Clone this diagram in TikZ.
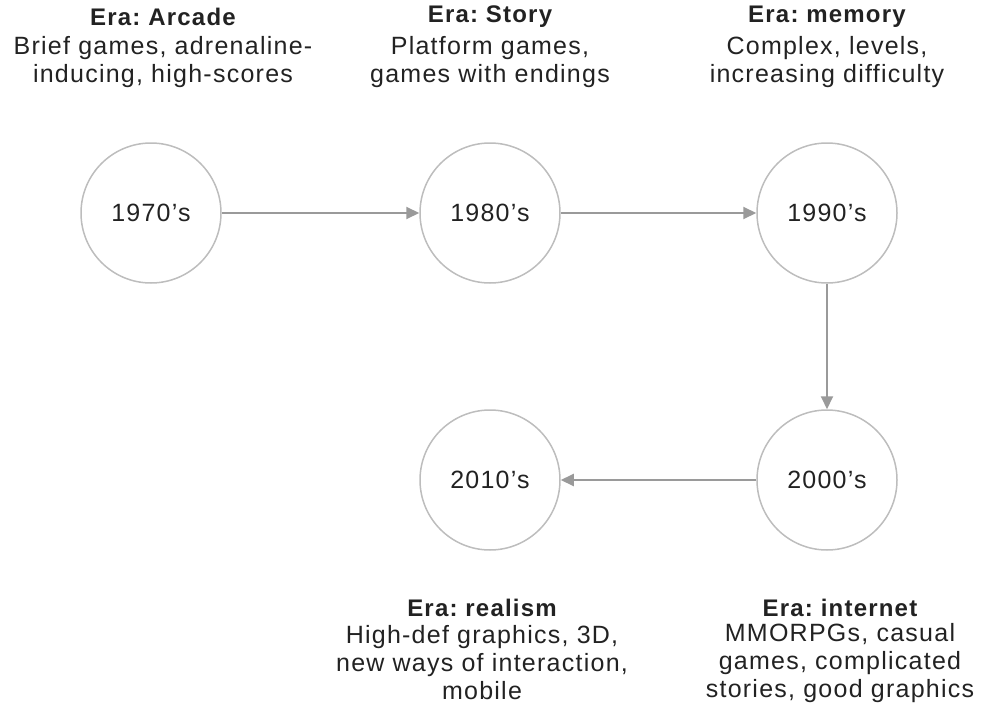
\documentclass[tikz,border=0pt]{standalone}
\usepackage{fontspec}
\setmainfont{Liberation Sans}
\usetikzlibrary{arrows.meta}
\definecolor{circ}{HTML}{BDBDBD}
\definecolor{arr}{HTML}{9A9A9A}
\definecolor{txt}{HTML}{222222}
\frenchspacing
\newfontfamily\spaced[LetterSpace=5]{Liberation Sans}
\newfontfamily\spacedb[LetterSpace=5]{Liberation Sans Bold}
\begin{document}
\begin{tikzpicture}[x=1pt,y=-1pt,
  yearnode/.style={circle,draw=circ,line width=1.5pt,minimum size=140pt,inner sep=0pt,
    font=\spaced\fontsize{25}{28}\selectfont,text=txt},
  title/.style={font=\spacedb\fontsize{24}{28}\selectfont,text=txt,inner sep=0pt},
  desc/.style={font=\spaced\fontsize{25}{28}\selectfont,text=txt,align=center,inner sep=0pt},
  conn/.style={draw=arr,line width=2pt,-{Triangle[length=13pt,width=12pt]}}]
\useasboundingbox (0,0) rectangle (994,704);
\node[yearnode] (y70) at (151,213) {1970’s};
\node[yearnode] (y80) at (490,213) {1980’s};
\node[yearnode] (y90) at (827,213) {1990’s};
\node[yearnode] (y00) at (827,480) {2000’s};
\node[yearnode] (y10) at (490,480) {2010’s};
\draw[conn] (y70) -- (y80);
\draw[conn] (y80) -- (y90);
\draw[conn] (y90) -- (y00);
\draw[conn] (y00) -- (y10);
\node[title] (t70) at (163,17) {Era: Arcade};
\node[desc] (d70) at (163,62) {Brief games, adrenaline-\\inducing, high-scores};
\node[title] (t80) at (490,17) {Era: Story};
\node[desc] (d80) at (490,62) {Platform games,\\games with endings};
\node[title] (t90) at (827,17) {Era: memory};
\node[desc] (d90) at (827,62) {Complex, levels,\\increasing difficulty};
\node[title] (t10) at (482,608) {Era: realism};
\node[desc] (d10) at (482,663) {High-def graphics, 3D,\\new ways of interaction,\\mobile};
\node[title] (t00) at (840,608) {Era: internet};
\node[desc] (d00) at (840,663) {MMORPGs, casual\\games, complicated\\stories, good graphics};
\end{tikzpicture}
\end{document}
